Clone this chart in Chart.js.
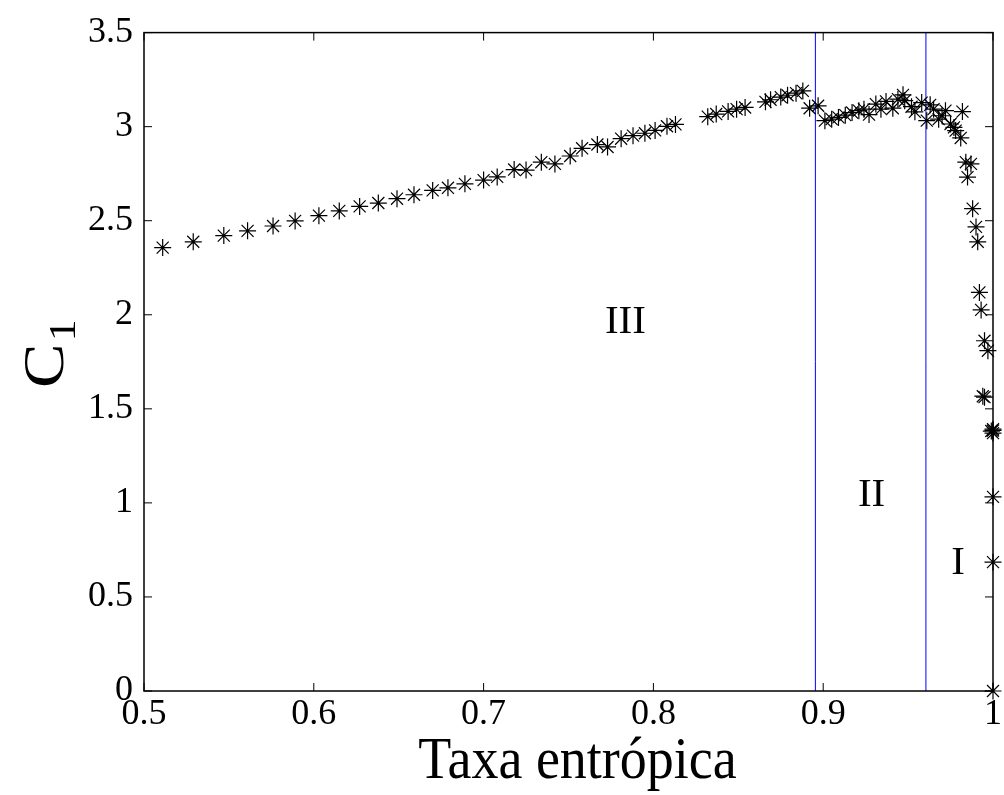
<!DOCTYPE html>
<html>
<head>
<meta charset="utf-8">
<script src="https://cdn.jsdelivr.net/npm/chart.js@4.4.0/dist/chart.umd.min.js"></script>
<style>
  html, body { margin: 0; padding: 0; background: #fff; }
</style>
</head>
<body>
<canvas id="myChart" width="1004" height="795"></canvas>
<script>
// taxa entropica (x) e complexidade C1 (y)
var taxa = [0.511, 0.529, 0.547, 0.561, 0.576, 0.589, 0.603, 0.615, 0.627, 0.638,
  0.649, 0.659, 0.670, 0.679, 0.689, 0.700, 0.708, 0.718, 0.725, 0.734,
  0.742, 0.751, 0.758, 0.767, 0.773, 0.781, 0.788, 0.795, 0.801, 0.808, 0.813,
  0.832, 0.837, 0.844, 0.849, 0.854,
  0.866, 0.869, 0.875, 0.879, 0.884, 0.888, 0.892, 0.897,
  0.901, 0.905, 0.909, 0.913, 0.917, 0.921, 0.924, 0.927, 0.931, 0.934,
  0.937, 0.941, 0.944, 0.947, 0.948, 0.952, 0.954, 0.958, 0.961, 0.963,
  0.965, 0.968, 0.970, 0.972, 0.975, 0.977, 0.978, 0.981, 0.982,
  0.984, 0.987, 0.985, 0.988, 0.990, 0.991,
  0.992, 0.993, 0.995, 0.997, 0.994, 0.995,
  0.999, 1.0, 1.0, 1.0, 1.0, 1.0, 1.0];
var c1 = [2.357, 2.388, 2.421, 2.446, 2.472, 2.499, 2.527, 2.552, 2.576, 2.594,
  2.617, 2.638, 2.661, 2.675, 2.696, 2.716, 2.733, 2.772, 2.769, 2.811,
  2.802, 2.844, 2.885, 2.905, 2.892, 2.936, 2.952, 2.965, 2.980, 3.002, 3.012,
  3.053, 3.067, 3.081, 3.093, 3.102,
  3.132, 3.143, 3.157, 3.167, 3.178, 3.190, 3.098, 3.111,
  3.032, 3.040, 3.049, 3.061, 3.075, 3.085, 3.093, 3.064, 3.120, 3.093,
  3.134, 3.098, 3.146, 3.169, 3.138, 3.106, 3.079, 3.128, 3.032, 3.116,
  3.093, 3.040, 3.058, 3.085, 3.014, 2.996, 2.979, 2.940, 3.080,
  2.811, 2.802, 2.732, 2.564, 2.467, 2.388,
  2.119, 2.026, 1.862, 1.809, 1.567, 1.562,
  1.382, 1.392, 1.371, 1.385, 1.032, 0.685, 0];

// limites entre as regioes
var limites = [0.8954, 0.9605];
var regioes = ["III", "II", "I"];
var regiaoX = [0.7835, 0.9285, 0.9795];
var regiaoY = [1.96, 1.04, 0.68];

var xTicks = [0.5, 0.6, 0.7, 0.8, 0.9, 1];
var yTicks = [0, 0.5, 1, 1.5, 2, 2.5, 3, 3.5];

var pontos = taxa.map(function (t, i) { return { x: t, y: c1[i] }; });

var datasets = [{
  label: "C1",
  data: pontos,
  pointStyle: "star",
  radius: 8.5,
  borderWidth: 1.2,
  borderColor: "#000",
  backgroundColor: "#000",
  showLine: false,
  clip: false
}];
limites.forEach(function (l) {
  datasets.push({
    data: [{ x: l, y: 0 }, { x: l, y: 3.5 }],
    showLine: true,
    borderColor: "#0000ff",
    borderWidth: 1,
    pointRadius: 0
  });
});

const serif = "'Liberation Serif', 'Times New Roman', serif";

// caixa, marcas internas e textos
const moldura = {
  id: "moldura",
  afterDatasetsDraw(chart) {
    const ctx = chart.ctx;
    const a = chart.chartArea;
    const sx = chart.scales.x, sy = chart.scales.y;
    ctx.save();
    ctx.strokeStyle = "#000";
    ctx.lineWidth = 1.5;
    ctx.strokeRect(a.left, a.top, a.right - a.left, a.bottom - a.top);
    ctx.lineWidth = 1;
    ctx.beginPath();
    xTicks.forEach(function (v) {
      const px = sx.getPixelForValue(v);
      ctx.moveTo(px, a.bottom); ctx.lineTo(px, a.bottom - 8);
      ctx.moveTo(px, a.top); ctx.lineTo(px, a.top + 8);
    });
    yTicks.forEach(function (v) {
      const py = sy.getPixelForValue(v);
      ctx.moveTo(a.left, py); ctx.lineTo(a.left + 8, py);
      ctx.moveTo(a.right, py); ctx.lineTo(a.right - 8, py);
    });
    ctx.stroke();

    ctx.fillStyle = "#000";
    ctx.textAlign = "center";
    ctx.textBaseline = "middle";
    ctx.font = "41px " + serif;
    regioes.forEach(function (r, i) {
      ctx.fillText(r, sx.getPixelForValue(regiaoX[i]), sy.getPixelForValue(regiaoY[i]));
    });

    // titulo do eixo x, um pouco mais alto que largo
    ctx.save();
    ctx.translate((a.left + a.right) / 2 + 9, 778);
    ctx.scale(1, 1.1);
    ctx.font = "54px " + serif;
    ctx.textBaseline = "alphabetic";
    ctx.fillText("Taxa entrópica", 0, 0);
    ctx.restore();

    // C com indice 1, rodado
    ctx.translate(63, 388);
    ctx.rotate(-Math.PI / 2);
    ctx.scale(1.15, 1);
    ctx.textAlign = "left";
    ctx.textBaseline = "alphabetic";
    ctx.font = "58px " + serif;
    ctx.fillText("C", 0, 0);
    const w = ctx.measureText("C").width;
    ctx.font = "38px " + serif;
    ctx.fillText("1", w + 2, 12);
    ctx.restore();
  }
};

new Chart(document.getElementById("myChart"), {
  type: "scatter",
  data: { datasets: datasets },
  options: {
    responsive: false,
    animation: false,
    devicePixelRatio: 1,
    layout: { padding: { top: 29, right: 9, left: 0, bottom: 0 } },
    plugins: { legend: { display: false }, tooltip: { enabled: false } },
    scales: {
      x: {
        type: "linear",
        min: 0.5, max: 1,
        afterBuildTicks: function (s) { s.ticks = xTicks.map(function (v) { return { value: v }; }); },
        afterFit: function (s) { s.height = 104; },
        grid: { display: false, drawTicks: false },
        border: { display: false },
        ticks: {
          autoSkip: false, maxRotation: 0, padding: 2, color: "#000",
          font: { family: serif, size: 36 },
          callback: function (v) { return String(+v.toFixed(2)); }
        }
      },
      y: {
        type: "linear",
        min: 0, max: 3.5,
        afterBuildTicks: function (s) { s.ticks = yTicks.map(function (v) { return { value: v }; }); },
        afterFit: function (s) { s.width = 144; },
        grid: { display: false, drawTicks: false },
        border: { display: false },
        ticks: {
          padding: 11, color: "#000",
          font: { family: serif, size: 36 },
          callback: function (v) { return String(+v.toFixed(2)); }
        }
      }
    }
  },
  plugins: [moldura]
});
</script>
</body>
</html>
